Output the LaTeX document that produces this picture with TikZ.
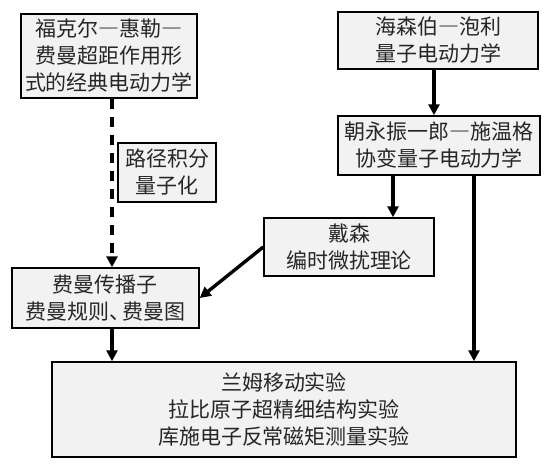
\documentclass[tikz,border=0pt]{standalone}
\usepackage{fontspec}
\newfontfamily\cjk[RawFeature=+fwid]{Noto Sans CJK SC}
\usetikzlibrary{arrows.meta}
\begin{document}
\begin{tikzpicture}[x=1pt,y=-1pt,
  box/.style={draw=black,line width=1.5pt,fill=black!5,align=center,inner sep=0pt,
    font=\cjk\fontsize{21}{27}\selectfont,text=black!85},
  arr/.style={line width=3.4pt,-{Triangle[length=11pt,width=11pt]}}]
\useasboundingbox (0,0) rectangle (550,469);
\node[box,minimum width=176pt,minimum height=84pt] (b1) at (109,56) {福克尔—惠勒—\\费曼超距作用形\\式的经典电动力学};
\node[box,minimum width=98pt,minimum height=59pt] (lj) at (167,172.5) {路径积分\\量子化};
\node[box,minimum width=200pt,minimum height=57pt] (b2) at (438,40.5) {海森伯—泡利\\量子电动力学};
\node[box,minimum width=202pt,minimum height=59pt] (b3) at (439,145.5) {朝永振一郎—施温格\\协变量子电动力学};
\node[box,minimum width=170pt,minimum height=58pt] (ds) at (349,247) {戴森\\编时微扰理论};
\node[box,minimum width=187pt,minimum height=60pt] (fm) at (105.5,298) {费曼传播子\\费曼规则、\kern-8pt费曼图};
\node[box,minimum width=464pt,minimum height=95pt] (big) at (284,409.5) {兰姆移动实验\\拉比原子超精细结构实验\\库施电子反常磁矩测量实验};
\draw[arr,dash pattern=on 10pt off 8pt] (b1.south -| 112,0) -- (fm.north -| 112,0);
\draw[arr] (b2.south -| 434,0) -- (b3.north -| 434,0);
\draw[arr] (b3.south -| 393,0) -- (ds.north -| 393,0);
\draw[arr] (b3.south -| 474,0) -- (big.north -| 474,0);
\draw[arr] (ds.west) -- (fm.east);
\draw[arr] (fm.south -| 112,0) -- (big.north -| 112,0);
\end{tikzpicture}
\end{document}
